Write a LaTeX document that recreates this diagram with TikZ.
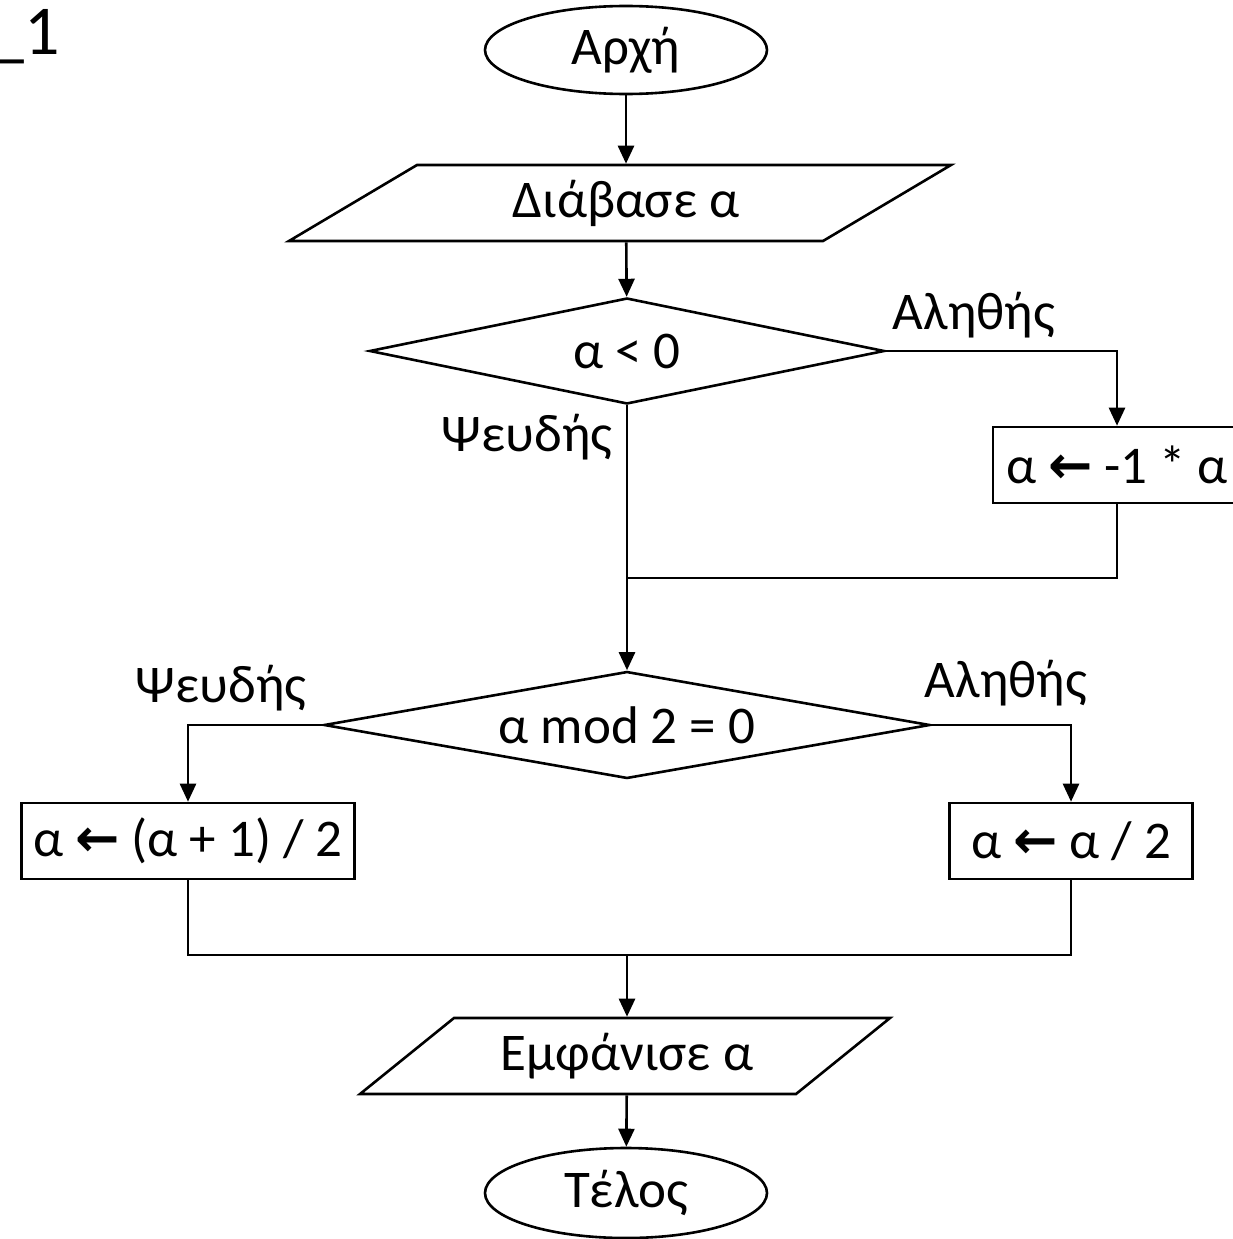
\documentclass[tikz,border=0pt]{standalone}
\usepackage{fontspec}
\setmainfont{Carlito}
\newfontfamily\arrfont{DejaVu Sans}
\usetikzlibrary{shapes.geometric,arrows.meta,calc}
\newcommand{\larr}{{\arrfont\bfseries\char"2190}}
\begin{document}
\begin{tikzpicture}[x=1pt,y=-1pt, line width=2.6pt,
  every node/.style={font=\fontsize{53}{62}\selectfont, inner sep=0pt},
  term/.style={draw, ellipse, minimum width=282, minimum height=90},
  dec/.style={draw, diamond, shape aspect=5},
  proc/.style={draw, rectangle, minimum height=76},
  flow/.style={-{Triangle[length=18pt,width=16pt]}}]
\useasboundingbox (0,0) rectangle (1232,1239);

% top-left fragment
\node[anchor=base west, font=\fontsize{70}{80}\selectfont] (num) at (-12,55) {\_1};

% start
\node[term, minimum height=88] (start) at (626,50) {Αρχή};

% input
\coordinate (readc) at (620,203);
\draw ($(readc)+(-331,38)$) -- ($(readc)+(203,38)$) -- ($(readc)+(331,-38)$) -- ($(readc)+(-203,-38)$) -- cycle;
\node[minimum height=76] (read) at (626,203) {Διάβασε α};

% decision 1
\node[dec, minimum width=515, minimum height=106] (d1) at (627,351) {α < 0};
\node (t1) at (974,315) {Αληθής};
\node (f1) at (527,437) {Ψευδής};

% negate
\node[proc, minimum width=248] (neg) at (1117,465) {α \larr\ -1 * α};

% decision 2
\node[dec, minimum width=606, minimum height=107] (d2) at (627,725) {α mod 2 = 0};
\node (f2) at (221,688) {Ψευδής};
\node (t2) at (1006,683) {Αληθής};

% branches
\node[proc, minimum width=333] (odd) at (188,841) {α \larr\ (α + 1) / 2};
\node[proc, minimum width=243] (even) at (1071,841) {α \larr\ α / 2};

% output
\coordinate (showc) at (625,1056);
\draw ($(showc)+(-265,38)$) -- ($(showc)+(171,38)$) -- ($(showc)+(265,-38)$) -- ($(showc)+(-171,-38)$) -- cycle;
\node[minimum height=76] (show) at (627,1056) {Εμφάνισε α};

% end
\node[term] (end) at (626,1193) {Τέλος};

% merge points
\coordinate (m1) at (627,578);
\coordinate (m2) at (627,955);

% connectors
\draw[flow] (start) -- (read);
\draw[flow] (read) -- (d1);
\draw[flow] (d1.east) -| (neg.north);
\draw (neg.south) |- (m1);
\draw[flow] (d1.south) -- (d2.north);
\draw[flow] (d2.west) -| (odd.north);
\draw[flow] (d2.east) -| (even.north);
\draw (odd.south) |- (m2);
\draw (even.south) |- (m2);
\draw[flow] (m2) -- (show);
\draw[flow] (show) -- (end);
\end{tikzpicture}
\end{document}
